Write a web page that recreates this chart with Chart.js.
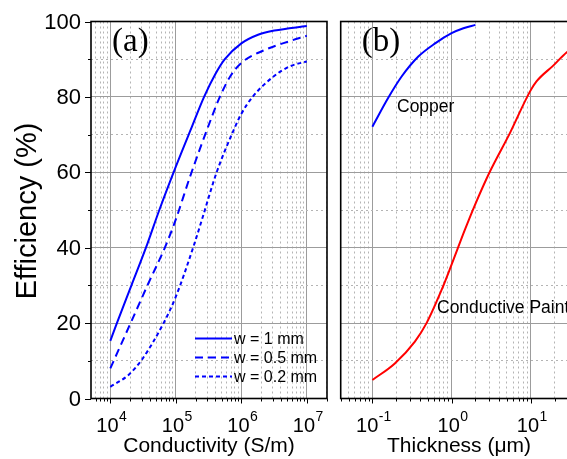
<!DOCTYPE html>
<html>
<head>
<meta charset="utf-8">
<script src="https://cdn.jsdelivr.net/npm/chart.js@4.4.0/dist/chart.umd.min.js"></script>
<style>
  html, body { margin: 0; padding: 0; background: #fff; overflow: hidden; width: 567px; height: 459px; }
  .panel { position: absolute; top: 0; }
  #wrapA { left: 0; width: 335px; height: 459px; }
  #wrapB { left: 330px; width: 300px; height: 459px; }
</style>
</head>
<body>
<div class="panel" id="wrapA"><canvas id="chartA" width="335" height="459"></canvas></div>
<div class="panel" id="wrapB"><canvas id="chartB" width="300" height="459"></canvas></div>
<script>
// ---- Panel (a): efficiency vs conductivity (S/m) ----
const condLabels = ['w = 1 mm', 'w = 0.5 mm', 'w = 0.2 mm'];

const w1X = [1.0e4, 1.26e4, 2.1e4, 3.5e4, 5.6e4, 1.0e5, 1.8e5, 2.7e5, 4.0e5, 5.6e5, 1.0e6, 1.8e6, 3.2e6, 1.0e7];
const w1Y = [15.3, 20, 30, 40, 50, 61.5, 72.5, 80, 86, 90, 94.2, 96.5, 97.6, 98.8];

const w05X = [1.0e4, 2.04e4, 3.8e4, 6.8e4, 1.0e5, 1.66e5, 3.6e5, 4.7e5, 6.8e5, 1.0e6, 2.17e6, 5.5e6, 1.0e7];
const w05Y = [8.0, 20, 30.5, 40, 47.5, 59, 75, 80, 85.5, 89, 92.3, 94.8, 96.2];

const w02X = [1.0e4, 1.88e4, 3.0e4, 6.5e4, 1.0e5, 1.86e5, 2.5e5, 4.2e5, 7.55e5, 1.0e6, 1.5e6, 3.1e6, 5.5e6, 1.0e7];
const w02Y = [3.1, 6.2, 10.2, 20, 27, 40.3, 47.4, 60, 71, 75.5, 80.1, 85.4, 88.1, 89.4];

// ---- Panel (b): efficiency vs thickness (um) ----
const copperX = [0.1, 0.158, 0.234, 0.38, 0.62, 1.0, 1.41, 2.0];
const copperY = [72.1, 79.7, 85.4, 90.7, 94.2, 96.9, 98.2, 99.1];

const paintX = [0.1, 0.192, 0.344, 0.483, 0.748, 1.0, 1.47, 1.97, 3.05, 5.45, 9.75, 11.8, 19.2, 28.3, 50];
const paintY = [4.9, 9.3, 15.1, 20, 28.8, 35.5, 44.7, 51.3, 60.2, 70.4, 81.4, 84.1, 88.3, 91.8, 95];

// ---- Axes / ticks ----
const yTickValues = [0, 20, 40, 60, 80, 100];
const condTickValues = [1e4, 1e5, 1e6, 1e7];
const condTickExp = ['4', '5', '6', '7'];
const thickTickValues = [0.1, 1, 10];
const thickTickExp = ['-1', '0', '1'];

const condRange  = [Math.pow(10, 3.705), Math.pow(10, 7.308)];
const thickRange = [Math.pow(10, -1.4), Math.pow(10, 2.1)];

const SANS  = '"Liberation Sans", Arial, sans-serif';
const SERIF = '"Liberation Serif", "Times New Roman", serif';

function toPoints(xs, ys) {
  return xs.map(function (x, i) { return { x: x, y: ys[i] }; });
}

// every 1..9 x 10^n inside the range, decades flagged as major
function logTicks(min, max) {
  const out = [];
  for (let e = Math.floor(Math.log10(min)); e <= Math.ceil(Math.log10(max)); e++) {
    for (let m = 1; m < 10; m++) {
      const v = m * Math.pow(10, e);
      if (v >= min && v <= max) out.push({ value: v, major: m === 1 });
    }
  }
  return out;
}

function gridColor(c) { return c.tick && c.tick.major ? '#9c9c9c' : '#b4b4b4'; }
function gridDash(c)  { return c.tick && c.tick.major ? [] : [2, 3]; }

function makeScales(range) {
  return {
    x: {
      type: 'logarithmic', min: range[0], max: range[1],
      ticks: { display: false },
      grid: { drawTicks: false, color: gridColor, lineWidth: 1 },
      border: { display: false, dash: gridDash },
      afterBuildTicks: function (s) { s.ticks = logTicks(range[0], range[1]); }
    },
    y: {
      type: 'linear', min: 0, max: 100,
      ticks: { display: false, stepSize: 10 },
      grid: { drawTicks: false, color: gridColor, lineWidth: 1 },
      border: { display: false, dash: gridDash },
      afterBuildTicks: function (s) {
        s.ticks = [];
        for (let v = 0; v <= 100; v += 10) s.ticks.push({ value: v, major: v % 20 === 0 });
      }
    }
  };
}

function drawPower(ctx, x, y, exp) {
  ctx.font = '20px ' + SANS;
  const wBase = ctx.measureText('10').width;
  ctx.font = '14px ' + SANS;
  const wExp = ctx.measureText(exp).width;
  const left = x - (wBase + wExp) / 2 + 1;
  ctx.textAlign = 'left';
  ctx.textBaseline = 'alphabetic';
  ctx.font = '20px ' + SANS;
  ctx.fillText('10', left, y);
  ctx.font = '14px ' + SANS;
  ctx.fillText(exp, left + wBase + 0.5, y - 11);
}

// frame, tick marks, tick labels, titles, legend, notes
function decorPlugin(cfg) {
  return {
    id: 'decor',
    afterDatasetsDraw: function (chart) {
      const ctx = chart.ctx, a = chart.chartArea;
      const xs = chart.scales.x, ys = chart.scales.y;
      ctx.save();
      ctx.fillStyle = '#000';
      ctx.strokeStyle = '#000';
      ctx.lineWidth = 1;

      xs.ticks.forEach(function (t) {
        const px = Math.round(xs.getPixelForValue(t.value)) + 0.5;
        ctx.beginPath();
        ctx.moveTo(px, a.bottom);
        ctx.lineTo(px, a.bottom + (t.major ? 5 : 3));
        ctx.stroke();
      });

      if (cfg.yLabels) {
        ys.ticks.forEach(function (t) {
          const py = Math.round(ys.getPixelForValue(t.value)) + 0.5;
          ctx.beginPath();
          ctx.moveTo(a.left, py);
          ctx.lineTo(a.left - (t.major ? 6 : 3), py);
          ctx.stroke();
        });
      }

      ctx.lineWidth = 1.6;
      ctx.strokeRect(a.left, a.top, a.right - a.left, a.bottom - a.top);

      if (cfg.yLabels) {
        ctx.font = '22px ' + SANS;
        ctx.textAlign = 'right';
        ctx.textBaseline = 'middle';
        yTickValues.forEach(function (v) {
          ctx.fillText(String(v), a.left - 10, ys.getPixelForValue(v) + 1);
        });
        ctx.save();
        ctx.translate(36, 211);
        ctx.rotate(-Math.PI / 2);
        ctx.font = '29px ' + SANS;
        ctx.textAlign = 'center';
        ctx.textBaseline = 'alphabetic';
        ctx.fillText('Efficiency (%)', 0, 0);
        ctx.restore();
      }

      cfg.xTicks.forEach(function (v, i) {
        drawPower(ctx, xs.getPixelForValue(v), 432, cfg.xExp[i]);
      });

      ctx.font = '21px ' + SANS;
      ctx.textAlign = 'center';
      ctx.textBaseline = 'alphabetic';
      ctx.fillText(cfg.xTitle, cfg.xTitleX, 452);

      ctx.font = '33px ' + SERIF;
      ctx.textAlign = 'left';
      ctx.fillText(cfg.tag, a.left + 21, 51);

      ctx.font = '17.5px ' + SANS;
      cfg.notes.forEach(function (n) { ctx.fillText(n.text, n.x, n.y); });

      if (cfg.legend) {
        ctx.font = '16px ' + SANS;
        chart.data.datasets.forEach(function (ds, i) {
          const ly = 338.5 + i * 19;
          ctx.save();
          ctx.strokeStyle = ds.borderColor;
          ctx.lineWidth = ds.borderWidth;
          ctx.setLineDash(ds.borderDash || []);
          ctx.beginPath();
          ctx.moveTo(195, ly);
          ctx.lineTo(232, ly);
          ctx.stroke();
          ctx.restore();
          ctx.textBaseline = 'middle';
          ctx.fillText(ds.label, 234, ly + 1);
        });
      }
      ctx.restore();
    }
  };
}

const lineDefaults = { borderWidth: 2, pointRadius: 0, fill: false, cubicInterpolationMode: 'monotone' };

new Chart(document.getElementById('chartA').getContext('2d'), {
  type: 'line',
  data: {
    datasets: [
      Object.assign({ label: condLabels[0], data: toPoints(w1X, w1Y), borderColor: '#0000ff', borderDash: [] }, lineDefaults),
      Object.assign({ label: condLabels[1], data: toPoints(w05X, w05Y), borderColor: '#0000ff', borderDash: [8, 5] }, lineDefaults),
      Object.assign({ label: condLabels[2], data: toPoints(w02X, w02Y), borderColor: '#0000ff', borderDash: [4, 3] }, lineDefaults)
    ]
  },
  options: {
    responsive: false,
    animation: false,
    events: [],
    layout: { padding: { left: 91, right: 8, top: 21.5, bottom: 60.5 } },
    plugins: { legend: { display: false }, tooltip: { enabled: false } },
    scales: makeScales(condRange)
  },
  plugins: [decorPlugin({
    yLabels: true, legend: true, tag: '(a)',
    xTicks: condTickValues, xExp: condTickExp,
    xTitle: 'Conductivity (S/m)', xTitleX: 209,
    notes: []
  })]
});

new Chart(document.getElementById('chartB').getContext('2d'), {
  type: 'line',
  data: {
    datasets: [
      Object.assign({ label: 'Copper', data: toPoints(copperX, copperY), borderColor: '#0000ff' }, lineDefaults),
      Object.assign({ label: 'Conductive Paint', data: toPoints(paintX, paintY), borderColor: '#ff0000' }, lineDefaults)
    ]
  },
  options: {
    responsive: false,
    animation: false,
    events: [],
    layout: { padding: { left: 10.7, right: 12.1, top: 21.5, bottom: 60.5 } },
    plugins: { legend: { display: false }, tooltip: { enabled: false } },
    scales: makeScales(thickRange)
  },
  plugins: [decorPlugin({
    yLabels: false, legend: false, tag: '(b)',
    xTicks: thickTickValues, xExp: thickTickExp,
    xTitle: 'Thickness (\u03bcm)', xTitleX: 129,
    notes: [{ text: 'Copper', x: 67, y: 112 }, { text: 'Conductive Paint', x: 107, y: 313 }]
  })]
});
</script>
</body>
</html>
